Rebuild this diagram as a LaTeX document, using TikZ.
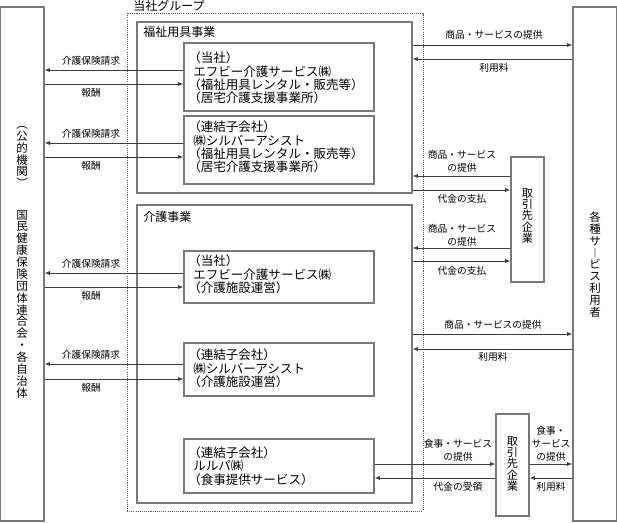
\documentclass[tikz,border=0pt]{standalone}
\usepackage{fontspec}
\setmainfont{Noto Sans CJK JP}
\usetikzlibrary{arrows.meta,positioning,fit}
\definecolor{boxgray}{RGB}{120,120,120}
\definecolor{linegray}{RGB}{60,60,60}
\definecolor{dotgray}{RGB}{90,90,90}
\newcommand{\lpar}{\kern-0.4em（}

\begin{document}
\begin{tikzpicture}[x=0.75pt, y=-0.75pt,
    frame/.style={draw=boxgray, line width=0.9pt, inner sep=0pt},
    flow/.style={draw=linegray, line width=0.7pt, -{Latex[length=4pt,width=3.2pt]}},
    boxtext/.style={anchor=west, align=left, inner sep=0pt, font=\fontsize{9.4}{10.1}\selectfont},
    lbl/.style={inner sep=0pt, align=center, font=\fontsize{7.3}{9.8}\selectfont},
    title/.style={anchor=west, inner sep=0pt, font=\fontsize{9}{10}\selectfont},
    vtext/.style={inner sep=0pt, align=center, font=\fontsize{8.6}{8.9}\selectfont}]

    \useasboundingbox (0,0) rectangle (617,522);

    % Public bodies (left) and service users (right)
    \node[frame, fit={(0.5,7) (44,521)}] (kikan) {};
    \node[vtext] (kikanA) at (22,157) {︵\\公\\的\\機\\関\\︶};
    \node[vtext] (kikanB) at (22,304) {国\\民\\健\\康\\保\\険\\団\\体\\連\\合\\会\\・\\各\\自\\治\\体};
    \node[frame, fit={(573,7) (616.5,521)}] (users) {};
    \node[vtext] (usersT) at (595,264.5) {各\\種\\サ\\︱\\ビ\\ス\\利\\用\\者};

    % Group and business segments
    \node[draw=dotgray, dash pattern=on 0.8pt off 0.8pt, line width=0.7pt, inner sep=0pt,
          fit={(127,13) (423,511)}] (group) {};
    \node[title] (groupT) at (133,6) {当社グループ};
    \node[frame, fit={(137,22) (412,193)}] (fukushi) {};
    \node[title] (fukushiT) at (143,32) {福祉用具事業};
    \node[frame, fit={(137,205) (412,503)}] (kaigo) {};
    \node[title] (kaigoT) at (143,217) {介護事業};

    % Companies
    \node[frame, fit={(184,43) (374,111)}] (ebA) {};
    \node[boxtext] (ebAT) at (193,78) {\lpar 当社）\\エフビー介護サービス㈱\\\lpar 福祉用具レンタル・販売等）\\\lpar 居宅介護支援事業所）};
    \node[frame, fit={(184,116) (374,184)}] (slB) {};
    \node[boxtext] (slBT) at (193,147) {\lpar 連結子会社）\\㈱シルバーアシスト\\\lpar 福祉用具レンタル・販売等）\\\lpar 居宅介護支援事業所）};
    \node[frame, fit={(184,251) (374,303)}] (ebC) {};
    \node[boxtext] (ebCT) at (193,274.5) {\lpar 当社）\\エフビー介護サービス㈱\\\lpar 介護施設運営）};
    \node[frame, fit={(184,343) (374,396)}] (slD) {};
    \node[boxtext] (slDT) at (193,368.5) {\lpar 連結子会社）\\㈱シルバーアシスト\\\lpar 介護施設運営）};
    \node[frame, fit={(184,439) (374,493)}] (rrE) {};
    \node[boxtext] (rrET) at (193,466) {\lpar 連結子会社）\\ルルパ㈱\\\lpar 食事提供サービス）};

    % Suppliers
    \node[frame, fit={(511,157) (544,282)}] (tori1) {};
    \node[vtext, font=\fontsize{8.4}{8.5}\selectfont] (tori1T) at (527.5,216) {取\\引\\先\\企\\業};
    \node[frame, fit={(496,414) (529,516)}] (tori2) {};
    \node[vtext, font=\fontsize{8.4}{8.5}\selectfont] (tori2T) at (512.5,464) {取\\引\\先\\企\\業};

    % Insurance claims and fees
    \foreach \bx/\ya/\yb in {ebA/70/84, slB/143/157, ebC/273/287, slD/364/379}{
        \draw[flow] (\bx.west |- 0,\ya) -- (kikan.east |- 0,\ya);
        \draw[flow] (kikan.east |- 0,\yb) -- (\bx.west |- 0,\yb);
        \node[lbl] (claim\bx) at (91,\ya-9) {介護保険請求};
        \node[lbl] (fee\bx) at (91,\yb+9) {報酬};
    }

    % Welfare equipment <-> users
    \draw[flow] (fukushi.east |- 0,45) -- (users.west |- 0,45);
    \draw[flow] (users.west |- 0,59) -- (fukushi.east |- 0,59);
    \node[lbl] (provF) at (494,35) {商品・サービスの提供};
    \node[lbl] (useF) at (494,68) {利用料};

    % Supplier 1
    \draw[flow] (tori1.west |- 0,176) -- (fukushi.east |- 0,176);
    \draw[flow] (fukushi.east |- 0,190) -- (tori1.west |- 0,190);
    \node[lbl] (supF) at (462,161.5) {商品・サービス\\の提供};
    \node[lbl] (payF) at (462,199) {代金の支払};
    \draw[flow] (tori1.west |- 0,248) -- (kaigo.east |- 0,248);
    \draw[flow] (kaigo.east |- 0,261) -- (tori1.west |- 0,261);
    \node[lbl] (supK) at (462,235) {商品・サービス\\の提供};
    \node[lbl] (payK) at (462,271) {代金の支払};

    % Care business <-> users
    \draw[flow] (kaigo.east |- 0,334) -- (users.west |- 0,334);
    \draw[flow] (users.west |- 0,349) -- (kaigo.east |- 0,349);
    \node[lbl] (provK) at (493,325) {商品・サービスの提供};
    \node[lbl] (useK) at (493,357) {利用料};

    % Meal service via supplier 2
    \draw[flow] (rrE.east |- 0,464) -- (tori2.west |- 0,464);
    \draw[flow] (tori2.west |- 0,478) -- (rrE.east |- 0,478);
    \node[lbl] (mealE) at (458,450) {食事・サービス\\の提供};
    \node[lbl] (recvE) at (458,487) {代金の受領};
    \draw[flow] (tori2.east |- 0,464) -- (users.west |- 0,464);
    \draw[flow] (users.west |- 0,478) -- (tori2.east |- 0,478);
    \node[lbl] (mealU) at (551,444) {食事・\\サービス\\の提供};
    \node[lbl] (useU) at (551,487) {利用料};
\end{tikzpicture}
\end{document}
